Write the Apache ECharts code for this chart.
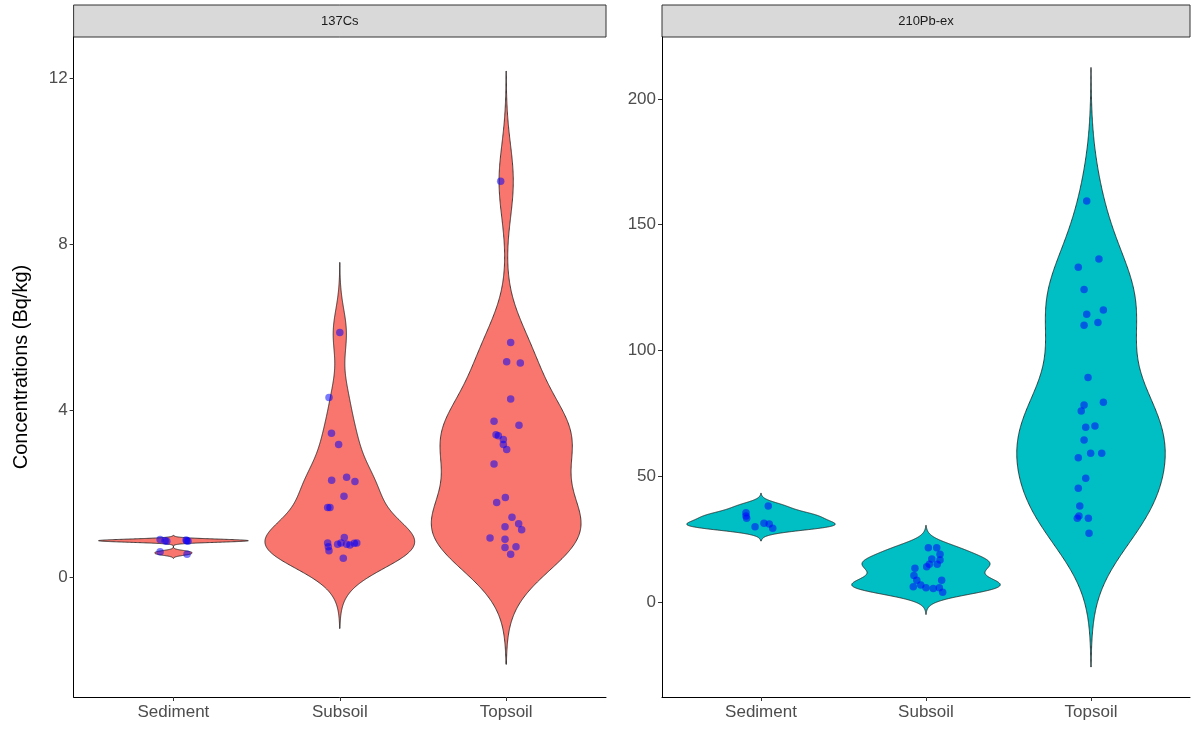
<!DOCTYPE html>
<html>
<head>
<meta charset="utf-8">
<script src="https://cdn.jsdelivr.net/npm/echarts@6/dist/echarts.min.js"></script>
<style>html,body{margin:0;padding:0;background:#fff}#c{width:1194px;height:730px}</style>
</head>
<body>
<div id="c"></div>
<script>
// ---- data ----
const categories = ['Sediment', 'Subsoil', 'Topsoil'];
const panelTitles = ['137Cs', '210Pb-ex'];
const yTitle = 'Concentrations (Bq/kg)';
const yTicksCs = [0, 4, 8, 12];
const yTicksPb = [0, 50, 100, 150, 200];

// 137Cs
const csSediment = [0.90, 0.86, 0.89, 0.86, 0.61, 0.55, 0.87, 0.87];
const csSedimentJitter = [-0.08, -0.04, 0.076, 0.088, -0.08, 0.082, -0.05, 0.08];
const csSubsoil = [5.88, 4.32, 3.46, 3.19, 2.33, 2.40, 2.30, 1.94, 1.67, 1.67, 0.82, 0.73, 0.63, 0.79, 0.82, 0.95, 0.79, 0.77, 0.81, 0.82, 0.45];
const csSubsoilJitter = [0.0, -0.065, -0.05, -0.007, -0.049, 0.041, 0.091, 0.025, -0.073, -0.059, -0.073, -0.069, -0.065, -0.013, 0.007, 0.027, 0.041, 0.061, 0.087, 0.102, 0.021];
const csTopsoil = [9.52, 5.64, 5.18, 5.15, 4.28, 3.75, 3.65, 3.42, 3.40, 3.31, 3.19, 3.07, 2.72, 1.91, 1.79, 1.44, 1.28, 1.21, 1.14, 0.94, 0.91, 0.73, 0.71, 0.55];
const csTopsoilJitter = [-0.033, 0.027, 0.003, 0.085, 0.027, -0.073, 0.077, -0.061, -0.047, -0.017, -0.017, 0.003, -0.073, -0.005, -0.057, 0.035, 0.075, -0.007, 0.093, -0.097, -0.007, 0.059, -0.007, 0.027];

// 210Pb-ex
const pbSediment = [38.2, 35.5, 34.2, 33.3, 31.3, 31.0, 29.9, 29.3];
const pbSedimentJitter = [0.044, -0.091, -0.091, -0.087, 0.018, 0.05, -0.036, 0.071];
const pbSubsoil = [21.6, 21.6, 19.0, 17.1, 16.7, 15.0, 15.0, 14.0, 13.4, 10.5, 8.7, 8.7, 6.1, 6.8, 5.7, 5.4, 5.7, 3.9];
const pbSubsoilJitter = [0.014, 0.065, 0.085, 0.035, 0.085, 0.02, 0.068, 0.004, -0.067, -0.073, -0.056, 0.095, -0.077, -0.032, 0.0, 0.044, 0.081, 0.101];
const pbTopsoil = [159.4, 136.4, 133.1, 124.3, 116.1, 114.4, 111.1, 110.0, 89.3, 78.3, 79.4, 75.9, 69.5, 70.0, 64.4, 57.4, 59.1, 59.1, 49.2, 45.2, 38.2, 34.2, 33.3, 33.3, 27.3];
const pbTopsoilJitter = [-0.026, 0.048, -0.077, -0.042, 0.075, -0.026, 0.042, -0.042, -0.018, -0.042, 0.075, -0.059, -0.032, 0.024, -0.042, -0.077, -0.002, 0.065, -0.032, -0.077, -0.068, -0.073, -0.083, -0.016, -0.012];

// ---- kernel density (like ggplot2 geom_violin, trim = FALSE, scale = "width") ----
function quantile7(sorted, p) {
  const h = (sorted.length - 1) * p, lo = Math.floor(h), hi = Math.ceil(h);
  return sorted[lo] + (h - lo) * (sorted[hi] - sorted[lo]);
}
function bwNrd0(x) {
  const n = x.length, mean = x.reduce((a, b) => a + b, 0) / n;
  const sd = Math.sqrt(x.reduce((a, b) => a + (b - mean) * (b - mean), 0) / (n - 1));
  const s = x.slice().sort((a, b) => a - b);
  const iqr = quantile7(s, 0.75) - quantile7(s, 0.25);
  let lo = Math.min(sd, iqr / 1.34);
  if (!lo) lo = sd || Math.abs(s[0]) || 1;
  return 0.9 * lo * Math.pow(n, -0.2);
}
function violinProfile(x) {
  const bw = bwNrd0(x);
  const from = Math.min(...x) - 3 * bw, to = Math.max(...x) + 3 * bw;
  const N = 512, ys = [], ds = [];
  for (let i = 0; i < N; i++) {
    const y = from + (to - from) * i / (N - 1);
    let d = 0;
    for (const v of x) { const z = (y - v) / bw; d += Math.exp(-0.5 * z * z); }
    ys.push(y); ds.push(d / (x.length * bw * Math.sqrt(2 * Math.PI)));
  }
  const m = Math.max(...ds);
  return ys.map((y, i) => [y, ds[i] / m]);
}

const panels = [
  { groups: [csSediment, csSubsoil, csTopsoil], jit: [csSedimentJitter, csSubsoilJitter, csTopsoilJitter], fill: '#F8766D', pt: 'rgba(0,0,255,0.65)', ymin: -2.886, ymax: 12.99, ticks: yTicksCs },
  { groups: [pbSediment, pbSubsoil, pbTopsoil], jit: [pbSedimentJitter, pbSubsoilJitter, pbTopsoilJitter], fill: '#00BFC4', pt: 'rgba(0,0,255,0.65)', ymin: -37.77, ymax: 224.65, ticks: yTicksPb }
];
const gridBoxes = [
  { left: 73.6, top: 37, width: 532.4, height: 660 },
  { left: 662, top: 37, width: 528, height: 660 }
];

const textColor = '#4D4D4D';
const font = '"Liberation Sans", Arial, sans-serif';
const series = [], xAxes = [], yAxes = [], graphics = [];

panels.forEach((p, pi) => {
  const profiles = p.groups.map(violinProfile);
  xAxes.push({
    type: 'value', gridIndex: pi, min: 0.4, max: 3.6,
    splitLine: { show: false },
    axisLine: { show: true, onZero: false, lineStyle: { color: '#000', width: 1 } },
    axisTick: { show: true, length: 4, lineStyle: { color: '#333' }, customValues: [1, 2, 3] },
    axisLabel: { customValues: [1, 2, 3], formatter: v => categories[Math.round(v) - 1] || '', color: textColor, fontSize: 17, fontFamily: font, margin: 7 }
  });
  yAxes.push({
    type: 'value', gridIndex: pi, min: p.ymin, max: p.ymax,
    splitLine: { show: false },
    axisLine: { show: true, onZero: false, lineStyle: { color: '#000', width: 1 } },
    axisTick: { show: true, length: 4, lineStyle: { color: '#333' }, customValues: p.ticks },
    axisLabel: { customValues: p.ticks, color: textColor, fontSize: 17, fontFamily: font, margin: 6 },
    name: pi === 0 ? yTitle : '', nameLocation: 'middle', nameGap: 42, nameRotate: 90,
    nameTextStyle: { color: '#000', fontSize: 20, fontFamily: font }
  });
  series.push({
    type: 'custom', xAxisIndex: pi, yAxisIndex: pi, silent: true,
    data: categories.map((c, i) => [i + 1, 0]),
    renderItem: (params, api) => {
      const gi = params.dataIndex, cx = gi + 1, prof = profiles[gi];
      const pts = [];
      for (const [y, w] of prof) pts.push(api.coord([cx - 0.45 * w, y]));
      for (let k = prof.length - 1; k >= 0; k--) pts.push(api.coord([cx + 0.45 * prof[k][1], prof[k][0]]));
      return { type: 'polygon', shape: { points: pts }, style: { fill: p.fill, stroke: '#1a1a1a', lineWidth: 0.8 } };
    },
    z: 1
  });
  const pts = [];
  p.groups.forEach((g, gi) => g.forEach((v, k) => pts.push([gi + 1 + p.jit[gi][k], v])));
  series.push({
    type: 'scatter', xAxisIndex: pi, yAxisIndex: pi, data: pts, symbolSize: 7.5,
    itemStyle: { color: p.pt }, silent: true, z: 3
  });
  const b = gridBoxes[pi];
  graphics.push({ type: 'rect', shape: { x: b.left, y: 5, width: b.width, height: 32 }, style: { fill: '#D9D9D9', stroke: '#333', lineWidth: 1 } });
  graphics.push({ type: 'text', x: b.left + b.width / 2, y: 21, style: { text: panelTitles[pi], fill: '#1A1A1A', fontSize: 13, fontFamily: font, align: 'center', verticalAlign: 'middle' } });
});

const chart = echarts.init(document.getElementById('c'), null, { renderer: 'canvas' });
chart.setOption({
  animation: false,
  backgroundColor: '#fff',
  grid: gridBoxes.map(b => Object.assign({ containLabel: false }, b)),
  xAxis: xAxes, yAxis: yAxes, series: series, graphic: graphics
});
</script>
</body>
</html>
